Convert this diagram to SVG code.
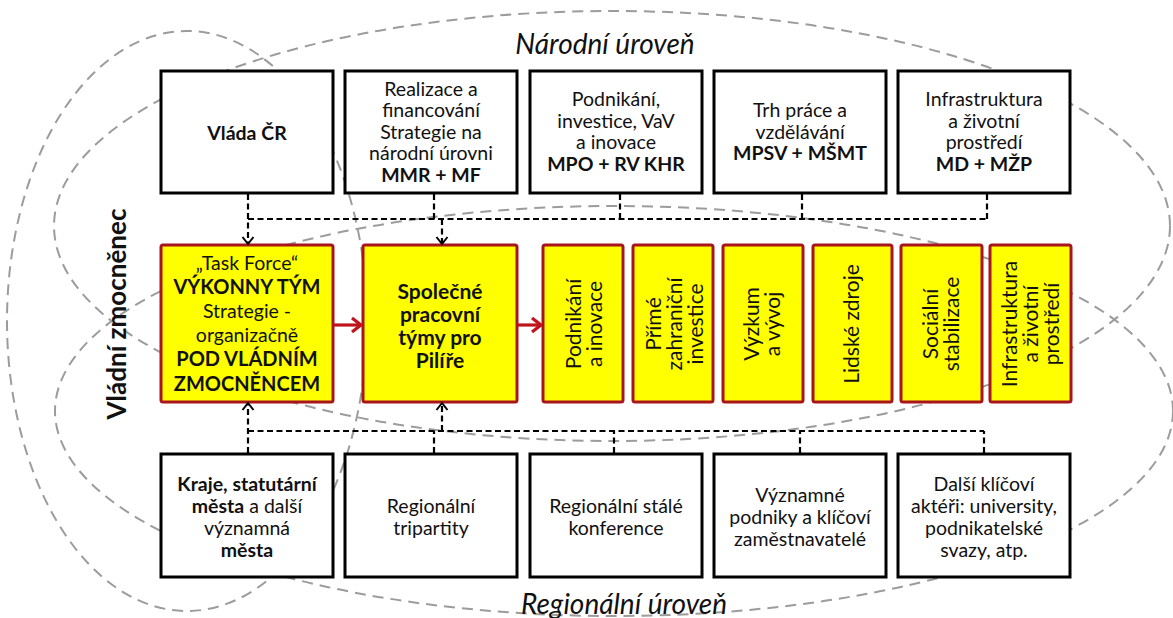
<svg xmlns="http://www.w3.org/2000/svg" width="1173" height="618" viewBox="0 0 1173 618">
<style>
text{font-family:Lato,"Liberation Sans","Noto Sans",sans-serif;fill:#111;text-anchor:middle;dominant-baseline:central}
.t{font-size:19.5px}
.b{font-weight:bold}
.yb{font-size:20px}
.p{font-size:21px}
.lvl{font-size:28px;font-style:italic}
.vz{font-size:26px;font-weight:bold}
.box{fill:#fff;stroke:#000;stroke-width:3}
.ybox{fill:#ffff00;stroke:#a8151a;stroke-width:3}
.loop{fill:none;stroke:#9c9c9c;stroke-width:2;stroke-dasharray:11 7}
.con{fill:none;stroke:#000;stroke-width:2.2;stroke-dasharray:6 3.5}
.red{fill:none;stroke:#c0141c;stroke-width:3.2}
</style>
<defs>
<marker id="ah" markerUnits="userSpaceOnUse" markerWidth="14" markerHeight="14" refX="10" refY="7" orient="auto">
<path d="M3,1.5 L10,7 L3,12.5" fill="none" stroke="#000" stroke-width="2"/>
</marker>
<marker id="rah" markerUnits="userSpaceOnUse" markerWidth="16" markerHeight="18" refX="12" refY="9" orient="auto">
<path d="M3,2 L12,9 L3,16" fill="none" stroke="#c0141c" stroke-width="3.2"/>
</marker>
</defs>

<g id="loops">
<ellipse class="loop" cx="612" cy="226" rx="558" ry="215"/>
<ellipse class="loop" cx="614" cy="411" rx="559" ry="205"/>
<ellipse class="loop" cx="187" cy="321" rx="180" ry="290"/>
</g>

<g id="labels">
<text class="lvl" x="605" y="43">Národní úroveň</text>
<text class="lvl" x="624" y="603">Regionální úroveň</text>
<text class="vz" transform="translate(116,314) rotate(-90)" x="0" y="0">Vládní zmocněnec</text>
</g>

<g id="n-vlada"><rect class="box" x="161" y="71" width="172" height="122"/>
<text class="t b" x="247" y="132">Vláda ČR</text></g>
<g id="n-mmr"><rect class="box" x="345" y="71" width="172" height="122"/>
<text class="t" x="431" y="88">Realizace a</text><text class="t" x="431" y="109.5">financování</text><text class="t" x="431" y="131">Strategie na</text><text class="t" x="431" y="152.5">národní úrovni</text><text class="t b" x="431" y="174">MMR + MF</text></g>
<g id="n-mpo"><rect class="box" x="530" y="71" width="172" height="122"/>
<text class="t" x="616" y="98.5">Podnikání,</text><text class="t" x="616" y="120">investice, VaV</text><text class="t" x="616" y="141.5">a inovace</text><text class="t b" x="616" y="163">MPO + RV KHR</text></g>
<g id="n-mpsv"><rect class="box" x="714" y="71" width="172" height="122"/>
<text class="t" x="800" y="109.5">Trh práce a</text><text class="t" x="800" y="131">vzdělávání</text><text class="t b" x="800" y="152.5">MPSV + MŠMT</text></g>
<g id="n-md"><rect class="box" x="898" y="71" width="172" height="122"/>
<text class="t" x="984" y="98.5">Infrastruktura</text><text class="t" x="984" y="120">a životní</text><text class="t" x="984" y="141.5">prostředí</text><text class="t b" x="984" y="163">MD + MŽP</text></g>

<g id="n-taskforce"><rect class="ybox" x="161" y="245" width="172" height="157" rx="2"/>
<text class="t" x="247" y="262">„Task Force“</text>
<text class="yb b" x="247" y="286">VÝKONNY TÝM</text>
<text class="t" x="247" y="310">Strategie -</text>
<text class="t" x="247" y="334">organizačně</text>
<text class="yb b" x="247" y="358">POD VLÁDNÍM</text>
<text class="yb b" x="247" y="383">ZMOCNĚNCEM</text></g>
<g id="n-tymy"><rect class="ybox" x="363" y="245" width="154" height="157" rx="2"/>
<text class="b" style="font-size:21px" x="440" y="290">Společné</text>
<text class="b" style="font-size:21px" x="440" y="313">pracovní</text>
<text class="b" style="font-size:21px" x="440" y="336">týmy pro</text>
<text class="b" style="font-size:21px" x="440" y="359">Pilíře</text></g>

<g id="n-p1"><rect class="ybox" x="543" y="245" width="80" height="157" rx="2"/>
<g transform="translate(583,324) rotate(-90)"><text class="p" x="0" y="-10.5">Podnikání</text><text class="p" x="0" y="10.5">a inovace</text></g></g>
<g id="n-p2"><rect class="ybox" x="633" y="245" width="80" height="157" rx="2"/>
<g transform="translate(673,324) rotate(-90)"><text class="p" x="0" y="-21">Přímé</text><text class="p" x="0" y="0">zahraniční</text><text class="p" x="0" y="21">investice</text></g></g>
<g id="n-p3"><rect class="ybox" x="723" y="245" width="80" height="157" rx="2"/>
<g transform="translate(761,324) rotate(-90)"><text class="p" x="0" y="-10.5">Výzkum</text><text class="p" x="0" y="10.5">a vývoj</text></g></g>
<g id="n-p4"><rect class="ybox" x="813" y="245" width="79" height="157" rx="2"/>
<g transform="translate(850,324) rotate(-90)"><text class="p" x="0" y="0">Lidské zdroje</text></g></g>
<g id="n-p5"><rect class="ybox" x="901" y="245" width="81" height="157" rx="2"/>
<g transform="translate(940,324) rotate(-90)"><text class="p" x="0" y="-10.5">Sociální</text><text class="p" x="0" y="10.5">stabilizace</text></g></g>
<g id="n-p6"><rect class="ybox" x="990" y="245" width="81" height="157" rx="2"/>
<g transform="translate(1029,324) rotate(-90)"><text class="p" x="0" y="-21">Infrastruktura</text><text class="p" x="0" y="0">a životní</text><text class="p" x="0" y="21">prostředí</text></g></g>

<g id="n-kraje"><rect class="box" x="161" y="454" width="172" height="123"/>
<text class="t" x="247" y="483"><tspan class="b">Kraje, statutární</tspan></text>
<text class="t" x="247" y="505"><tspan class="b">města</tspan> a další</text>
<text class="t" x="247" y="527">významná</text>
<text class="t b" x="247" y="549">města</text></g>
<g id="n-tripartity"><rect class="box" x="345" y="454" width="172" height="123"/>
<text class="t" x="431" y="505">Regionální</text><text class="t" x="431" y="527">tripartity</text></g>
<g id="n-konference"><rect class="box" x="530" y="454" width="172" height="123"/>
<text class="t" x="616" y="505">Regionální stálé</text><text class="t" x="616" y="527">konference</text></g>
<g id="n-podniky"><rect class="box" x="714" y="454" width="172" height="123"/>
<text class="t" x="800" y="494">Významné</text><text class="t" x="800" y="516">podniky a klíčoví</text><text class="t" x="800" y="538">zaměstnavatelé</text></g>
<g id="n-dalsi"><rect class="box" x="898" y="454" width="172" height="123"/>
<text class="t" x="984" y="483">Další klíčoví</text><text class="t" x="984" y="505">aktéři: university,</text><text class="t" x="984" y="527">podnikatelské</text><text class="t" x="984" y="549">svazy, atp.</text></g>

<g id="connectors">
<path class="con" d="M248,194 V244" marker-end="url(#ah)"/>
<path class="con" d="M434,194 V219 M620,194 V219 M802,194 V219 M987,194 V219 M248,219 H987"/>
<path class="con" d="M442,219 V244" marker-end="url(#ah)"/>
<path class="con" d="M248,453 V403" marker-end="url(#ah)"/>
<path class="con" d="M434,453 V431 M614,453 V431 M800,453 V431 M984,453 V431 M248,431 H984"/>
<path class="con" d="M442,431 V403" marker-end="url(#ah)"/>
<path class="red" d="M334,325 H361" marker-end="url(#rah)"/>
<path class="red" d="M518,325 H541" marker-end="url(#rah)"/>
</g>
</svg>
